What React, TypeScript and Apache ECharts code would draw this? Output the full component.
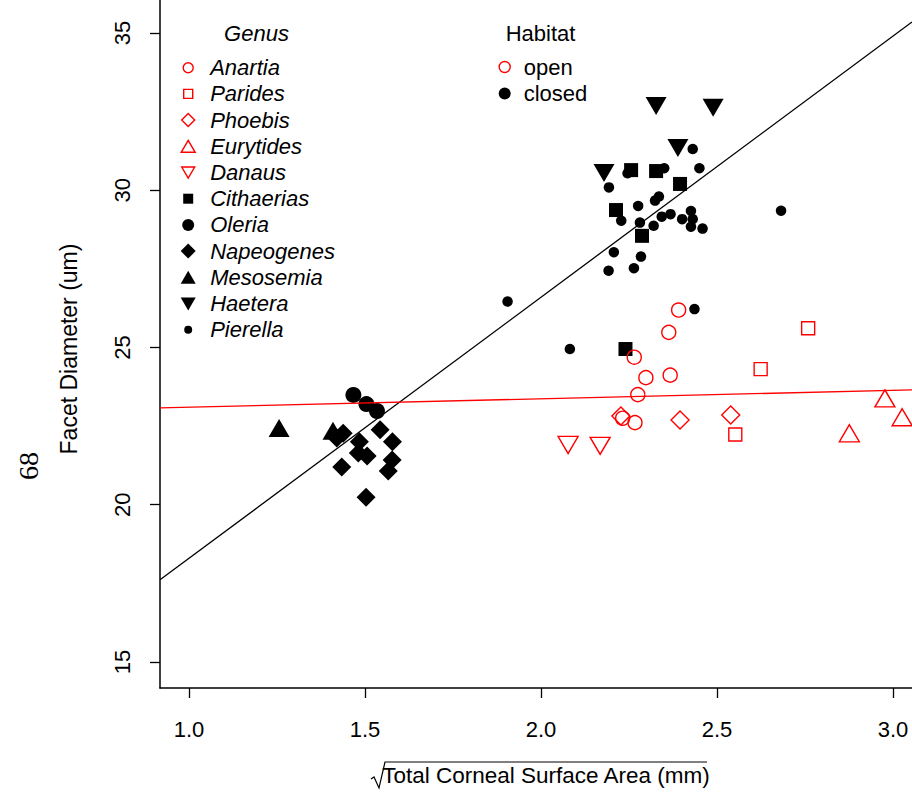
import React, { useEffect, useRef } from "react";
import * as echarts from "echarts";

// ---- axis ticks / ranges ----
const xTicks = [1.0, 1.5, 2.0, 2.5, 3.0];
const yTicks = [15, 20, 25, 30, 35];
const xRange = [0.9176, 3.054];
const yRange = [14.17, 36.05];

// ---- legend categories ----
const genusNames = [
  "Anartia", "Parides", "Phoebis", "Eurytides", "Danaus",
  "Cithaerias", "Oleria", "Napeogenes", "Mesosemia", "Haetera", "Pierella",
];
const habitatNames = ["open", "closed"];

// ---- data: [sqrt corneal area, facet diameter] ----
const anartia = [
  [2.391, 26.19], [2.363, 25.48], [2.265, 24.69], [2.298, 24.04],
  [2.367, 24.12], [2.275, 23.50], [2.232, 22.75], [2.267, 22.61],
];
const parides = [[2.759, 25.61], [2.624, 24.31], [2.552, 22.23]];
const phoebis = [[2.227, 22.82], [2.395, 22.69], [2.539, 22.85]];
const eurytides = [[2.977, 23.38], [3.026, 22.78], [2.876, 22.27]];
const danaus = [[2.077, 21.90], [2.168, 21.87]];
const cithaerias = [
  [2.256, 30.64], [2.327, 30.61], [2.395, 30.20], [2.213, 29.37],
  [2.287, 28.55], [2.240, 24.95],
];
const oleria = [[1.467, 23.49], [1.504, 23.20], [1.534, 22.98]];
const napeogenes = [
  [1.438, 22.27], [1.420, 22.12], [1.543, 22.38], [1.484, 22.00],
  [1.578, 22.00], [1.481, 21.64], [1.506, 21.55], [1.577, 21.42],
  [1.434, 21.20], [1.566, 21.07], [1.503, 20.24],
];
const mesosemia = [[1.256, 22.44], [1.409, 22.35]];
const haetera = [[2.327, 32.68], [2.489, 32.62], [2.389, 31.34], [2.179, 30.55]];
const pierella = [
  [2.431, 31.31], [2.450, 30.70], [2.350, 30.70], [2.246, 30.54],
  [2.193, 30.09], [2.335, 29.80], [2.324, 29.67], [2.276, 29.50],
  [2.682, 29.35], [2.426, 29.34], [2.228, 29.03], [2.281, 28.97],
  [2.343, 29.16], [2.368, 29.24], [2.401, 29.08], [2.431, 29.08],
  [2.426, 28.84], [2.459, 28.78], [2.320, 28.87], [2.207, 28.03],
  [2.284, 27.89], [2.192, 27.44], [2.264, 27.52], [1.905, 26.46],
  [2.436, 26.22], [2.082, 24.95],
];

// ---- fitted lines (endpoints at the axis limits) ----
const fitX = [0.9176, 3.054];
const closedFitY = [17.61, 35.35];
const openFitY = [23.08, 23.65];

const FONT = "'Liberation Sans', Arial, Helvetica, sans-serif";
const SERIF = "'Liberation Serif', 'Times New Roman', Times, serif";
const RED = "#ff0000";
const BLACK = "#000000";
const DOWN_TRI = "path://M0,0L2,0L1,1.732Z";
const FRAME = "M0,0L0,0M16,16L16,16";

const genusData: Record<string, number[][]> = {
  Anartia: anartia, Parides: parides, Phoebis: phoebis, Eurytides: eurytides,
  Danaus: danaus, Cithaerias: cithaerias, Oleria: oleria, Napeogenes: napeogenes,
  Mesosemia: mesosemia, Haetera: haetera, Pierella: pierella,
};

const genusStyle: Record<string, { symbol: string; size: number[]; open: boolean; icon: string }> = {
  Anartia: { symbol: "circle", size: [14, 14], open: true, icon: `path://${FRAME}M3,8A5,5 0 1,1 13,8A5,5 0 1,1 3,8Z` },
  Parides: { symbol: "rect", size: [13, 13], open: true, icon: `path://${FRAME}M3.5,3.5L12.5,3.5L12.5,12.5L3.5,12.5Z` },
  Phoebis: { symbol: "diamond", size: [18, 18], open: true, icon: `path://${FRAME}M8,1.5L14.5,8L8,14.5L1.5,8Z` },
  Eurytides: { symbol: "triangle", size: [20, 17], open: true, icon: `path://${FRAME}M8,2L15,14L1,14Z` },
  Danaus: { symbol: DOWN_TRI, size: [20, 17], open: true, icon: `path://${FRAME}M1.5,2.5L14.5,2.5L8,13.5Z` },
  Cithaerias: { symbol: "rect", size: [14, 14], open: false, icon: `path://${FRAME}M3,3L13,3L13,13L3,13Z` },
  Oleria: { symbol: "circle", size: [16, 16], open: false, icon: `path://${FRAME}M2,8A6,6 0 1,1 14,8A6,6 0 1,1 2,8Z` },
  Napeogenes: { symbol: "diamond", size: [19, 19], open: false, icon: `path://${FRAME}M8,0.5L15.5,8L8,15.5L0.5,8Z` },
  Mesosemia: { symbol: "triangle", size: [21, 18], open: false, icon: `path://${FRAME}M8,1.5L15.5,14.5L0.5,14.5Z` },
  Haetera: { symbol: DOWN_TRI, size: [21, 18], open: false, icon: `path://${FRAME}M0.5,2L15.5,2L8,15Z` },
  Pierella: { symbol: "circle", size: [10.5, 10.5], open: false, icon: `path://${FRAME}M4,8A4,4 0 1,1 12,8A4,4 0 1,1 4,8Z` },
};

const habitatStyle: Record<string, { open: boolean; icon: string }> = {
  open: { open: true, icon: `path://${FRAME}M2.5,8A5.5,5.5 0 1,1 13.5,8A5.5,5.5 0 1,1 2.5,8Z` },
  closed: { open: false, icon: `path://${FRAME}M2,8A6,6 0 1,1 14,8A6,6 0 1,1 2,8Z` },
};

function itemStyleFor(open: boolean) {
  return open
    ? { color: "rgba(0,0,0,0)", borderColor: RED, borderWidth: 1.4, opacity: 1 }
    : { color: BLACK, borderWidth: 0, opacity: 1 };
}

const drawOrder = [
  "Pierella", "Oleria", "Napeogenes", "Mesosemia", "Cithaerias", "Haetera",
  "Anartia", "Parides", "Phoebis", "Eurytides", "Danaus",
];

export default function App() {
  const ref = useRef<HTMLDivElement>(null);

  useEffect(() => {
    if (!ref.current) return;
    const chart = echarts.init(ref.current, undefined, { renderer: "svg" });

    const scatterSeries = drawOrder.map((g) => ({
      name: g,
      type: "scatter",
      data: genusData[g],
      symbol: genusStyle[g].symbol,
      symbolSize: genusStyle[g].size,
      itemStyle: itemStyleFor(genusStyle[g].open),
      z: 3,
    }));

    const habitatSeries = habitatNames.map((h) => ({
      name: h,
      type: "scatter",
      data: [],
      symbol: "circle",
      itemStyle: itemStyleFor(habitatStyle[h].open),
    }));

    const option: any = {
      animation: false,
      backgroundColor: "#ffffff",
      grid: { left: 160, top: 0, right: 0, bottom: 104, containLabel: false },
      xAxis: {
        type: "value",
        min: xRange[0],
        max: xRange[1],
        splitLine: { show: false },
        axisLine: { show: true, onZero: false, lineStyle: { color: BLACK, width: 1.5 } },
        axisTick: { show: true, customValues: xTicks, length: 10, lineStyle: { color: BLACK, width: 1.3 } },
        axisLabel: {
          show: true,
          customValues: xTicks,
          formatter: (v: number) => v.toFixed(1),
          margin: 30,
          fontSize: 22,
          fontFamily: FONT,
          color: BLACK,
        },
        name: "Total Corneal Surface Area (mm)",
        nameLocation: "middle",
        nameGap: 76,
        nameTextStyle: { fontSize: 22.5, fontFamily: FONT, color: BLACK, padding: [0, 0, 0, 20] },
      },
      yAxis: {
        type: "value",
        min: yRange[0],
        max: yRange[1],
        splitLine: { show: false },
        axisLine: { show: true, onZero: false, lineStyle: { color: BLACK, width: 1.5 } },
        axisTick: { show: true, customValues: yTicks, length: 10, lineStyle: { color: BLACK, width: 1.3 } },
        axisLabel: {
          show: true,
          customValues: yTicks,
          rotate: 90,
          margin: 27,
          fontSize: 22,
          fontFamily: FONT,
          color: BLACK,
        },
        name: "Facet Diameter (um)",
        nameLocation: "middle",
        nameRotate: 90,
        nameGap: 80,
        nameTextStyle: { fontSize: 23, fontFamily: FONT, color: BLACK, padding: [0, 10, 0, 0] },
      },
      legend: [
        {
          data: genusNames.map((g) => ({
            name: g,
            icon: genusStyle[g].icon,
            itemStyle: itemStyleFor(genusStyle[g].open),
          })),
          orient: "vertical",
          left: 179.5,
          top: 54.7,
          padding: 0,
          itemWidth: 34,
          itemHeight: 16,
          itemGap: 0.2,
          selectedMode: false,
          textStyle: { fontStyle: "italic", fontSize: 22, fontFamily: FONT, color: BLACK, lineHeight: 26 },
        },
        {
          data: habitatNames.map((h) => ({
            name: h,
            icon: habitatStyle[h].icon,
            itemStyle: itemStyleFor(habitatStyle[h].open),
          })),
          orient: "vertical",
          left: 496,
          top: 54,
          padding: 0,
          itemWidth: 28,
          itemHeight: 16,
          itemGap: 0.4,
          selectedMode: false,
          textStyle: { fontSize: 22, fontFamily: FONT, color: BLACK, lineHeight: 26 },
        },
      ],
      graphic: [
        {
          type: "text",
          x: 256.5,
          y: 33,
          style: { text: "Genus", align: "center", verticalAlign: "middle", fontSize: 22, fontStyle: "italic", fontFamily: FONT, fill: BLACK },
        },
        {
          type: "text",
          x: 540.5,
          y: 33,
          style: { text: "Habitat", align: "center", verticalAlign: "middle", fontSize: 22, fontFamily: FONT, fill: BLACK },
        },
        {
          type: "text",
          x: 28,
          y: 466,
          rotation: Math.PI / 2,
          style: { text: "68", align: "center", verticalAlign: "middle", fontSize: 28, fontFamily: SERIF, fill: BLACK },
        },
        {
          type: "polyline",
          shape: { points: [[371, 779], [374, 777], [379, 788], [385, 762], [707, 762]] },
          style: { stroke: BLACK, lineWidth: 1.2, fill: null },
        },
      ],
      series: [
        ...scatterSeries,
        ...habitatSeries,
        {
          name: "closed fit",
          type: "line",
          data: fitX.map((x, i) => [x, closedFitY[i]]),
          showSymbol: false,
          symbol: "none",
          lineStyle: { color: BLACK, width: 1.3 },
          silent: true,
          z: 4,
        },
        {
          name: "open fit",
          type: "line",
          data: fitX.map((x, i) => [x, openFitY[i]]),
          showSymbol: false,
          symbol: "none",
          lineStyle: { color: RED, width: 1.3 },
          silent: true,
          z: 4,
        },
      ],
    };

    chart.setOption(option);
    return () => chart.dispose();
  }, []);

  return (
    <div
      ref={ref}
      style={{ position: "fixed", left: 0, top: 0, width: 912, height: 792, background: "#fff" }}
    />
  );
}
